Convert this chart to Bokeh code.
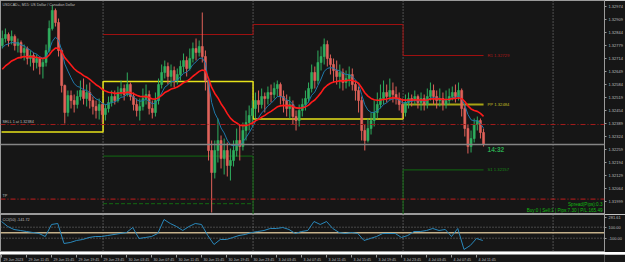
from bokeh.plotting import figure
from bokeh.models import Range1d, FixedTicker, PrintfTickFormatter, Span, Label, ColumnDataSource
from bokeh.layouts import column
from bokeh.core.properties import value
from bokeh.embed import file_html
from bokeh.resources import INLINE

# ------------------------------------------------------------------ data
title_text = "USDCAD+, M15:  US Dollar / Canadian Dollar"
# prices in points: price = 1.30000 + pts / 100000 ; one candle = two M15 bars
first_open_pts = 2779
close_pts = [2814, 2834, 2804, 2824, 2779, 2794, 2744, 2764, 2714, 2729,
             2694, 2714, 2674, 2694, 2754, 2864, 2954, 2894, 2754, 2579,
             2444, 2529, 2504, 2484, 2524, 2554, 2514, 2544, 2504, 2474,
             2454, 2484, 2434, 2464, 2494, 2524, 2504, 2544, 2564, 2534,
             2584, 2524, 2484, 2454, 2474, 2514, 2534, 2464, 2444, 2504,
             2584, 2644, 2674, 2624, 2654, 2604, 2634, 2674, 2704, 2664,
             2714, 2764, 2744, 2774, 2724, 2604, 2254, 2144, 2254, 2304,
             2214, 2254, 2179, 2204, 2254, 2304, 2274, 2354, 2394, 2429,
             2464, 2504, 2484, 2524, 2514, 2544, 2534, 2564, 2584, 2524,
             2504, 2464, 2484, 2424, 2404, 2454, 2484, 2514, 2564, 2644,
             2604, 2694, 2724, 2784, 2714, 2684, 2654, 2624, 2644, 2594,
             2614, 2634, 2584, 2554, 2504, 2354, 2304, 2364, 2404, 2444,
             2484, 2514, 2544, 2524, 2554, 2534, 2514, 2484, 2444, 2494,
             2514, 2504, 2524, 2494, 2514, 2484, 2524, 2554, 2524, 2504,
             2514, 2484, 2504, 2524, 2544, 2524, 2554, 2464, 2364, 2274,
             2314, 2384, 2404, 2344, 2284]
high_pts = [2854, 2864, 2844, 2854, 2834, 2814, 2804, 2784, 2774, 2754,
            2744, 2734, 2724, 2714, 2784, 2904, 2979, 2964, 2914, 2764,
            2584, 2554, 2554, 2534, 2554, 2604, 2614, 2584, 2594, 2524,
            2504, 2514, 2494, 2484, 2524, 2554, 2554, 2574, 2604, 2584,
            2644, 2594, 2544, 2514, 2514, 2564, 2584, 2554, 2504, 2544,
            2614, 2684, 2704, 2694, 2684, 2674, 2664, 2704, 2739, 2724,
            2764, 2794, 2814, 2804, 2944, 2754, 2614, 2304, 2304, 2414,
            2329, 2314, 2294, 2264, 2304, 2364, 2379, 2394, 2454, 2479,
            2504, 2544, 2554, 2564, 2544, 2574, 2584, 2594, 2604, 2594,
            2554, 2534, 2524, 2504, 2454, 2484, 2514, 2554, 2594, 2684,
            2674, 2754, 2774, 2814, 2804, 2734, 2714, 2704, 2684, 2664,
            2654, 2674, 2664, 2604, 2574, 2524, 2384, 2414, 2444, 2504,
            2544, 2584, 2604, 2584, 2614, 2594, 2574, 2544, 2514, 2534,
            2544, 2534, 2554, 2534, 2544, 2534, 2564, 2594, 2584, 2554,
            2564, 2544, 2554, 2564, 2574, 2584, 2594, 2564, 2484, 2384,
            2354, 2414, 2424, 2414, 2364]
low_pts = [2764, 2794, 2774, 2784, 2754, 2744, 2714, 2704, 2684, 2674,
           2654, 2664, 2634, 2614, 2674, 2744, 2854, 2874, 2724, 2544,
           2389, 2424, 2464, 2444, 2464, 2504, 2484, 2474, 2464, 2434,
           2414, 2409, 2394, 2404, 2444, 2474, 2484, 2494, 2524, 2504,
           2524, 2504, 2454, 2424, 2404, 2454, 2484, 2434, 2414, 2424,
           2484, 2564, 2614, 2584, 2574, 2569, 2584, 2604, 2644, 2624,
           2654, 2694, 2704, 2724, 2694, 2554, 2204, 1944, 2114, 2194,
           2164, 2134, 2124, 2104, 2174, 2224, 2204, 2254, 2304, 2354,
           2374, 2414, 2444, 2464, 2444, 2484, 2494, 2514, 2524, 2484,
           2444, 2424, 2414, 2384, 2354, 2374, 2424, 2454, 2494, 2544,
           2564, 2584, 2654, 2684, 2674, 2634, 2594, 2584, 2564, 2554,
           2564, 2574, 2554, 2504, 2444, 2304, 2254, 2294, 2334, 2374,
           2414, 2464, 2484, 2494, 2504, 2494, 2484, 2454, 2414, 2424,
           2464, 2474, 2484, 2464, 2454, 2454, 2464, 2504, 2484, 2464,
           2474, 2454, 2464, 2484, 2504, 2494, 2504, 2424, 2324, 2239,
           2244, 2294, 2354, 2314, 2274]

# moving averages (values at the left edge)
red_ma_period, red_ma_start_pts = 20, 2644
blue_ma_period, blue_ma_start_pts = 8, 2754

# daily pivot levels (None = outside the visible range)
day_start_bar = [0, 65, 161, 257]
day_sep_bars = [65, 161, 257, 353]
pp_pts = [2346, 2599, 2412, 2484]
r1_pts = [None, 2834, 2884, 2729]
s1_pts = [None, 2226, 1880, 2157]
s2_pts = [None, 1988, None, None]

sell_price = 1.32384
tp_price = 1.32011
timer_text = "14:32"
info_spread = "Spread(Pips):0.3"
info_orders = "Buy:0 | Sell:1 | Pips:7.30 | P/L:165.49"

price_ticks = [1.32974, 1.32909, 1.32844, 1.32779, 1.32714, 1.32649, 1.32584, 1.32519,
               1.32454, 1.32389, 1.32324, 1.32259, 1.32194, 1.32129, 1.32064, 1.31999]

cci_bars = list(range(0, 309, 4))
cci_vals = [203.6, 112.7, 58.2, 40.0, 21.8, 3.6, -14.5, -69.1, 149.1, 167.3,
            -196.3, -178.2, -141.8, -123.6, -87.3, -69.1, -69.1, -50.9, -32.7, -14.5,
            3.6, 94.5, -105.4, -87.3, -69.1, -14.5, 240.0, 167.3, 112.7, 40.0,
            112.7, 167.3, 149.1, -50.9, -214.5, -123.6, -123.6, -87.3, -50.9, -32.7,
            3.6, 21.8, 40.0, 76.4, 76.4, 94.5, 58.2, -14.5, 21.8, 40.0,
            203.6, 149.1, 203.6, 76.4, 3.6, -14.5, 3.6, -14.5, -141.8, -105.4,
            -69.1, -14.5, -14.5, -14.5, -87.3, -50.9, 21.8, 21.8, 40.0, 76.4,
            40.0, 58.2, -69.1, 76.4, -305.4, -232.7, -105.4, -141.72]
cci_levels = [100, -100]
cci_ticks = [281.61, 100, -100]
cci_min_label = "-377.44"

time_label_bars = [0, 16, 32, 48, 64, 80, 96, 112, 128, 144, 160, 176, 192, 208, 224, 240, 256, 272, 288, 304]
time_labels = ["29 Jun 2023", "29 Jun 11:45", "29 Jun 15:45", "29 Jun 19:45", "29 Jun 23:45",
               "30 Jun 03:45", "30 Jun 07:45", "30 Jun 11:45", "30 Jun 15:45", "30 Jun 19:45",
               "30 Jun 23:45", "3 Jul 03:45", "3 Jul 07:45", "3 Jul 11:45", "3 Jul 15:45",
               "3 Jul 19:45", "3 Jul 23:45", "4 Jul 03:45", "4 Jul 07:45", "4 Jul 11:45"]

# ------------------------------------------------------------------ style
BG = "#161616"
FRAME = "#9a9a9a"
TXT = "#bdbdbd"
FONT = "Liberation Sans"
BULL, BEAR = "#2fae5e", "#e0625a"


def P(v):
    return 1.3 + v / 100000.0


def ema(vals, period, start):
    a = 2.0 / (period + 1)
    e, out = start, []
    for v in vals:
        e = e + a * (v - e)
        out.append(P(e))
    return out


n = len(close_pts)
open_pts = [first_open_pts] + close_pts[:-1]
centers = [2 * k + 0.5 for k in range(n)]
last_x = centers[-1]

x_range = Range1d(-0.64, 385.9)


def base_fig(h, y_range, right_axis=True):
    f = figure(frame_width=604, frame_height=h, x_range=x_range, y_range=y_range,
               x_axis_location=None, y_axis_location="right" if right_axis else None,
               toolbar_location=None, output_backend="svg", title=None,
               min_border_left=0, min_border_top=0, min_border_bottom=0, min_border_right=21,
               background_fill_color=BG, border_fill_color=BG, outline_line_color=FRAME)
    f.grid.visible = False
    if right_axis:
        ax = f.yaxis[0]
        ax.axis_line_color = FRAME
        ax.major_tick_line_color = FRAME
        ax.minor_tick_line_color = None
        ax.major_tick_out = 2
        ax.major_tick_in = 0
        ax.major_label_standoff = 2
        ax.major_label_text_font = FONT
        ax.major_label_text_font_size = "4px"
        ax.major_label_text_color = TXT
    return f


# ------------------------------------------------------------------ main chart
main = base_fig(214, Range1d(1.31934, 1.33004))
main.yaxis.ticker = FixedTicker(ticks=price_ticks)
main.yaxis.formatter = PrintfTickFormatter(format="%.5f")

for b in day_sep_bars:
    main.add_layout(Span(location=b, dimension="height", line_color="#8a8a8a",
                         line_dash="1 2", line_width=1, level="underlay"))


def step_xy(vals, ends_last):
    xs, ys = [], []
    ends = day_start_bar[1:] + [ends_last]
    for s, e, v in zip(day_start_bar, ends, vals):
        if v is None:
            xs.append(float("nan"))
            ys.append(float("nan"))
            continue
        xs += [s, e]
        ys += [P(v), P(v)]
    return xs, ys


# pivot lines
xs, ys = step_xy(r1_pts, last_x)
main.line(xs, ys, line_color="#9e1010", line_width=1)
xs, ys = step_xy(s1_pts, last_x)
main.line(xs, ys, line_color="#126a12", line_width=1)
xs, ys = step_xy(s2_pts, last_x)
main.line(xs, ys, line_color="#126a12", line_width=1, line_dash="4 2")
xs, ys = step_xy(pp_pts[:3], day_start_bar[3])
xs += [day_start_bar[3]]
ys += [P(pp_pts[3])]
main.line(xs, ys, line_color="#e6e21a", line_width=1.5)
main.line([day_start_bar[3], last_x], [P(pp_pts[3])] * 2, line_color="#a8a414", line_width=2)

lab_x = [last_x] * 3
main.text(x=lab_x, y=[P(r1_pts[3]), P(pp_pts[3]), P(s1_pts[3])],
          text=["R1 %.5f" % P(r1_pts[3]), "PP %.5f" % P(pp_pts[3]), "S1 %.5f" % P(s1_pts[3])],
          text_color=["#b01818", "#c2be22", "#178a17"], x_offset=4, text_baseline="middle",
          text_font=value(FONT), text_font_size="4.2px")

# order lines
main.add_layout(Span(location=sell_price, dimension="width", line_color="#a01a1a",
                     line_dash="5 2 1 2", line_width=1))
main.add_layout(Span(location=tp_price, dimension="width", line_color="#c21e1e",
                     line_dash="5 2 1 2", line_width=1))
main.text(x=[0, 0], y=[sell_price, tp_price], text=["SELL 1 at %.5f" % sell_price, "TP"],
          x_offset=1, y_offset=-1, text_baseline="bottom", text_color=TXT,
          text_font=value(FONT), text_font_size="3.8px")

# candles
src = ColumnDataSource(dict(
    x=centers,
    top=[P(max(o, c)) for o, c in zip(open_pts, close_pts)],
    bottom=[P(min(o, c)) for o, c in zip(open_pts, close_pts)],
    high=[P(h) for h in high_pts],
    low=[P(l) for l in low_pts],
    color=[BULL if c > o else BEAR for o, c in zip(open_pts, close_pts)],
))
main.segment(x0="x", y0="low", x1="x", y1="high", line_color="color", line_width=1, source=src)
main.vbar(x="x", width=1.3, top="top", bottom="bottom", fill_color="color",
          line_color="color", line_width=0.6, source=src)

# moving averages
main.line(centers, ema(close_pts, blue_ma_period, blue_ma_start_pts), line_color="#1f78aa", line_width=1)
main.line(centers, ema(close_pts, red_ma_period, red_ma_start_pts), line_color="#ff1a1a", line_width=1.6)

# bid line + box
last_price = P(close_pts[-1])
main.add_layout(Span(location=last_price, dimension="width", line_color="#858585", line_width=1.5))
main.add_layout(Label(x=605, y=last_price, x_units="screen", y_units="data", text="%.5f" % last_price,
                      text_font=FONT, text_font_size="4px", text_color="#1a1a1a",
                      text_baseline="middle", background_fill_color="#d8d0e2"))
main.text(x=[last_x], y=[last_price], text=[timer_text], x_offset=4, y_offset=1,
          text_baseline="top", text_color="#2aa84e", text_font=value(FONT),
          text_font_size="6.5px", text_font_style="bold")

main.add_layout(Label(x=2, y=210, x_units="screen", y_units="screen", text=title_text,
                      text_font=FONT, text_font_size="3.6px", text_color=TXT, text_baseline="middle"))
main.add_layout(Label(x=602, y=10, x_units="screen", y_units="screen", text=info_spread,
                      text_font=FONT, text_font_size="4.6px", text_color="#12b812",
                      text_baseline="middle", text_align="right"))
main.add_layout(Label(x=602, y=4.5, x_units="screen", y_units="screen", text=info_orders,
                      text_font=FONT, text_font_size="4.6px", text_color="#12b812",
                      text_baseline="middle", text_align="right"))

# ------------------------------------------------------------------ CCI panel
cci = base_fig(38, Range1d(-360.0, 330.9))
cci.yaxis.ticker = FixedTicker(ticks=cci_ticks)
cci.yaxis.formatter = PrintfTickFormatter(format="%.2f")
for b in day_sep_bars:
    cci.add_layout(Span(location=b, dimension="height", line_color="#8a8a8a",
                        line_dash="1 2", line_width=1, level="underlay"))
for lv in cci_levels:
    cci.add_layout(Span(location=lv, dimension="width", line_color="#7a7a7a",
                        line_dash="1 2", line_width=1, level="underlay"))
cci.add_layout(Span(location=0, dimension="width", line_color="#c4b08a", line_width=1.5, level="underlay"))
cci.line(cci_bars, cci_vals, line_color="#2a88bb", line_width=1)
cci.add_layout(Label(x=2, y=32.5, x_units="screen", y_units="screen",
                     text="CCI(50) %.2f" % cci_vals[-1], text_font=FONT, text_font_size="3.8px",
                     text_color=TXT, text_baseline="middle"))
cci.add_layout(Label(x=605, y=0, x_units="screen", y_units="data", text="0.00",
                     text_font=FONT, text_font_size="4px", text_color="#1a1a1a",
                     text_baseline="middle", background_fill_color="#dcc6a0"))
cci.add_layout(Label(x=608, y=1.5, x_units="screen", y_units="screen", text=cci_min_label,
                     text_font=FONT, text_font_size="4px", text_color=TXT, text_baseline="bottom"))

# ------------------------------------------------------------------ time axis
tax = figure(frame_width=604, frame_height=10, x_range=x_range, y_range=Range1d(0, 1),
             x_axis_location=None, y_axis_location=None, toolbar_location=None,
             output_backend="svg", title=None, min_border_left=0, min_border_top=0,
             min_border_bottom=0, min_border_right=21, background_fill_color=BG,
             border_fill_color=BG, outline_line_color=None)
tax.grid.visible = False
tax.segment(x0=time_label_bars, y0=[1] * len(time_label_bars), x1=time_label_bars,
            y1=[0.7] * len(time_label_bars), line_color=FRAME, line_width=1)
tax.text(x=time_label_bars, y=[0.45] * len(time_label_bars), text=time_labels, x_offset=2,
         text_baseline="middle", text_align="left", text_color=TXT,
         text_font=value(FONT), text_font_size="3.6px")

layout = column(main, cci, tax, spacing=0)
open("out.html", "w").write(file_html(layout, INLINE))
